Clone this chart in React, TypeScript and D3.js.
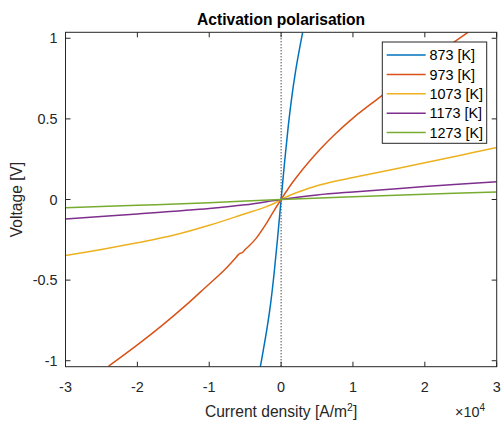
import React from "react";
import * as d3 from "d3";

// Current density (x 1e4 A/m^2) and voltage (V)
const temps = ["873 [K]", "973 [K]", "1073 [K]", "1173 [K]", "1273 [K]"];

const i873 = [-0.29, -0.25, -0.2, -0.15, -0.1, -0.05, 0, 0.05, 0.1, 0.15, 0.2, 0.25, 0.3];
const v873 = [-1.04, -0.94, -0.81, -0.66, -0.47, -0.245, 0, 0.239, 0.457, 0.64, 0.792, 0.92, 1.037];

const i973 = [-2.4, -2.0, -1.647, -1.3, -1.043, -0.789, -0.6, -0.58, -0.54, -0.5, -0.45, -0.348, -0.2, -0.1, 0, 0.1, 0.2, 0.4, 0.55, 0.75, 1.0, 1.39, 1.75, 2.0, 2.34, 2.6];
const v973 = [-1.034, -0.902, -0.778, -0.646, -0.541, -0.437, -0.345, -0.335, -0.33, -0.31, -0.29, -0.241, -0.145, -0.07, 0, 0.068, 0.13, 0.24, 0.315, 0.405, 0.505, 0.64, 0.765, 0.848, 0.955, 1.037];

const i1073 = [-3, -2.5, -2, -1.5, -1, -0.5, -0.25, -0.1, 0, 0.1, 0.25, 0.5, 0.75, 1, 1.5, 2, 2.5, 3];
const v1073 = [-0.348, -0.31, -0.268, -0.222, -0.16, -0.088, -0.052, -0.025, 0, 0.022, 0.048, 0.085, 0.113, 0.136, 0.182, 0.228, 0.275, 0.322];

const i1173 = [-3, -2, -1, -0.5, 0, 0.5, 1, 2, 3];
const v1173 = [-0.121, -0.09, -0.056, -0.033, 0, 0.028, 0.047, 0.08, 0.11];

const i1273 = [-3, -2, -1, 0, 1, 2, 3];
const v1273 = [-0.051, -0.036, -0.02, 0, 0.017, 0.032, 0.047];

const currents = [i873, i973, i1073, i1173, i1273];
const voltages = [v873, v973, v1073, v1173, v1273];

const xTicks = [-3, -2, -1, 0, 1, 2, 3];
const yTicks = [-1, -0.5, 0, 0.5, 1];
const colors = ["#0072BD", "#D95319", "#EDB120", "#7E2F8E", "#77AC30"];

const W = 503, H = 423;
const L = 65.5, R = 496.7, T = 32.3, B = 366.7;
const FONT = "'Liberation Sans', Arial, Helvetica, sans-serif";
const AX = "#262626";
const FS = 14.4;
const LFS = 15.6;

export default function App() {
  const x = d3.scaleLinear().domain([-3, 3]).range([L, R]);
  const y = d3.scaleLinear().domain([-1.037, 1.037]).range([B, T]);
  const line = d3
    .line<[number, number]>()
    .x((d) => x(d[0]))
    .y((d) => y(d[1]))
    .curve(d3.curveCatmullRom.alpha(0.5));

  const series = currents.map((cs, k) => cs.map((c, j) => [c, voltages[k][j]] as [number, number]));
  const tl = 5;

  return (
    <svg width={W} height={H} style={{ position: "absolute", left: 0, top: 0, background: "#fff" }}>
      <rect x={0} y={0} width={W} height={H} fill="#fff" />
      <defs>
        <clipPath id="plot">
          <rect x={L} y={T} width={R - L} height={B - T} />
        </clipPath>
      </defs>
      <rect x={L} y={T} width={R - L} height={B - T} fill="#fff" />
      <line x1={x(0)} x2={x(0)} y1={T} y2={B} stroke="#000" strokeWidth={1} strokeDasharray="1,2" />
      <g clipPath="url(#plot)">
        {series.map((s, k) => (
          <path key={k} d={line(s) || ""} fill="none" stroke={colors[k]} strokeWidth={1.5} />
        ))}
      </g>
      <rect x={L} y={T} width={R - L} height={B - T} fill="none" stroke={AX} strokeWidth={1} />
      {xTicks.map((t) => (
        <g key={"x" + t}>
          <line x1={x(t)} x2={x(t)} y1={B} y2={B - tl} stroke={AX} />
          <line x1={x(t)} x2={x(t)} y1={T} y2={T + tl} stroke={AX} />
          <text x={x(t)} y={392} textAnchor="middle" fontFamily={FONT} fontSize={FS} fill={AX}>
            {t}
          </text>
        </g>
      ))}
      {yTicks.map((t) => (
        <g key={"y" + t}>
          <line x1={L} x2={L + tl} y1={y(t)} y2={y(t)} stroke={AX} />
          <line x1={R} x2={R - tl} y1={y(t)} y2={y(t)} stroke={AX} />
          <text x={57.5} y={y(t) + 5.2} textAnchor="end" fontFamily={FONT} fontSize={FS} fill={AX}>
            {t}
          </text>
        </g>
      ))}
      <text x={(L + R) / 2} y={24.5} textAnchor="middle" fontFamily={FONT} fontSize={LFS} fontWeight="bold" fill="#000">
        Activation polarisation
      </text>
      <text x={(L + R) / 2} y={417} textAnchor="middle" fontFamily={FONT} fontSize={LFS} fill={AX}>
        Current density [A/m<tspan dy={-6} fontSize={10.5}>2</tspan><tspan dy={6}>]</tspan>
      </text>
      <text x={455} y={417} fontFamily={FONT} fontSize={FS} fill={AX}>
        ×10<tspan dy={-6.5} fontSize={10}>4</tspan>
      </text>
      <text transform={`translate(22,${(T + B) / 2}) rotate(-90)`} textAnchor="middle" fontFamily={FONT} fontSize={LFS} fill={AX}>
        Voltage [V]
      </text>
      <rect x={382.3} y={42} width={104.4} height={101.3} fill="#fff" stroke={AX} strokeWidth={1} />
      {temps.map((t, k) => {
        const yy = 55 + k * 19.4;
        return (
          <g key={t}>
            <line x1={386.7} x2={425.7} y1={yy} y2={yy} stroke={colors[k]} strokeWidth={1.5} />
            <text x={429.5} y={yy + 5.2} fontFamily={FONT} fontSize={FS} fill="#000">
              {t}
            </text>
          </g>
        );
      })}
    </svg>
  );
}
